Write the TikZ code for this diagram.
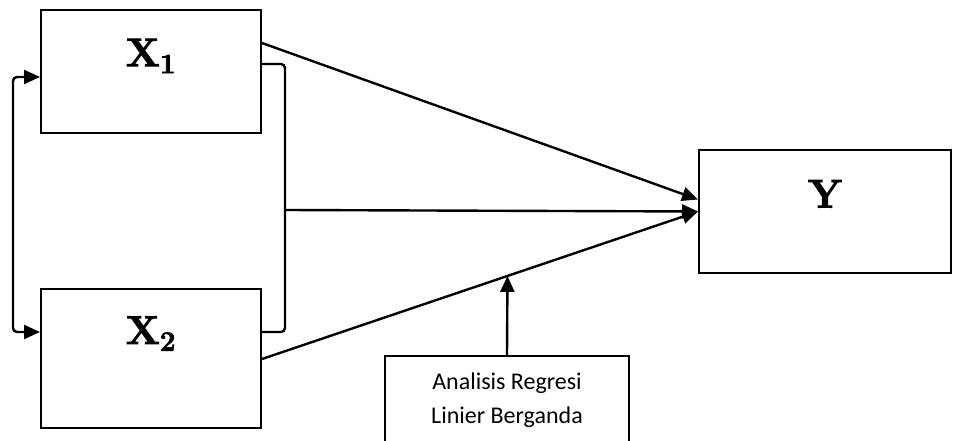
\documentclass[tikz,border=0pt]{standalone}
\usepackage{fontspec}
\newfontfamily\calibri{Carlito}
\newfontfamily\fatface{Latin Modern Roman}[BoldFeatures={FakeBold=2.5}]
\usetikzlibrary{arrows.meta, positioning, calc}

\tikzset{
	varbox/.style={draw, line width=1.5pt, rectangle, inner sep=0pt},
	varname/.style={font=\fatface\fontsize{30}{32}\selectfont\bfseries, inner sep=0pt, anchor=north},
	wire/.style={line width=1.8pt},
	arrowtip/.style={-{Triangle[length=12pt, width=10.5pt]}},
}

\begin{document}
\begin{tikzpicture}[x=0.75pt, y=-0.75pt]
	\useasboundingbox (0,0) rectangle (953,441);
	% Boxes:
	\node[varbox, minimum width=165pt, minimum height=92pt,
		label={[varname, yshift=-22pt]north:X\textsubscript{1}}] (x1) at (151, 71.5) {};
	\node[varbox, minimum width=165pt, minimum height=104pt,
		label={[varname, yshift=-21pt]north:X\textsubscript{2}}] (x2) at (151, 358.5) {};
	\node[varbox, minimum width=189pt, minimum height=92pt,
		label={[varname, yshift=-23pt]north:Y}] (y) at (825, 211.5) {};
	\node[varbox, minimum width=183pt, minimum height=67pt, align=center,
		font=\calibri\fontsize{18}{25.5}\selectfont] (reg) at (507, 400.5) {Analisis Regresi\\Linier Berganda};
	% Paths and wires:
	\draw[wire, arrowtip] ($(x1.east)+(0,-28.5)$) -- ($(y.west)+(0,-12)$);
	\draw[wire, rounded corners=3pt] ($(x1.east)+(0,-7.5)$) -| (285, 332) -- ($(x2.east)+(0,-26.5)$);
	\draw[wire, arrowtip] (285, 210) -- (y.west);
	\draw[wire, arrowtip] ($(x2.east)+(0,0.5)$) -- (y.west) coordinate[pos=0.563] (hit);
	\draw[wire, arrowtip] (reg.north) -- (hit);
	\draw[wire, {Triangle[length=12pt, width=10.5pt]}-{Triangle[length=12pt, width=10.5pt]}, rounded corners=3pt]
		($(x1.west)+(0,5.5)$) -| (13, 200) |- ($(x2.west)+(0,-26.5)$);
\end{tikzpicture}
\end{document}
